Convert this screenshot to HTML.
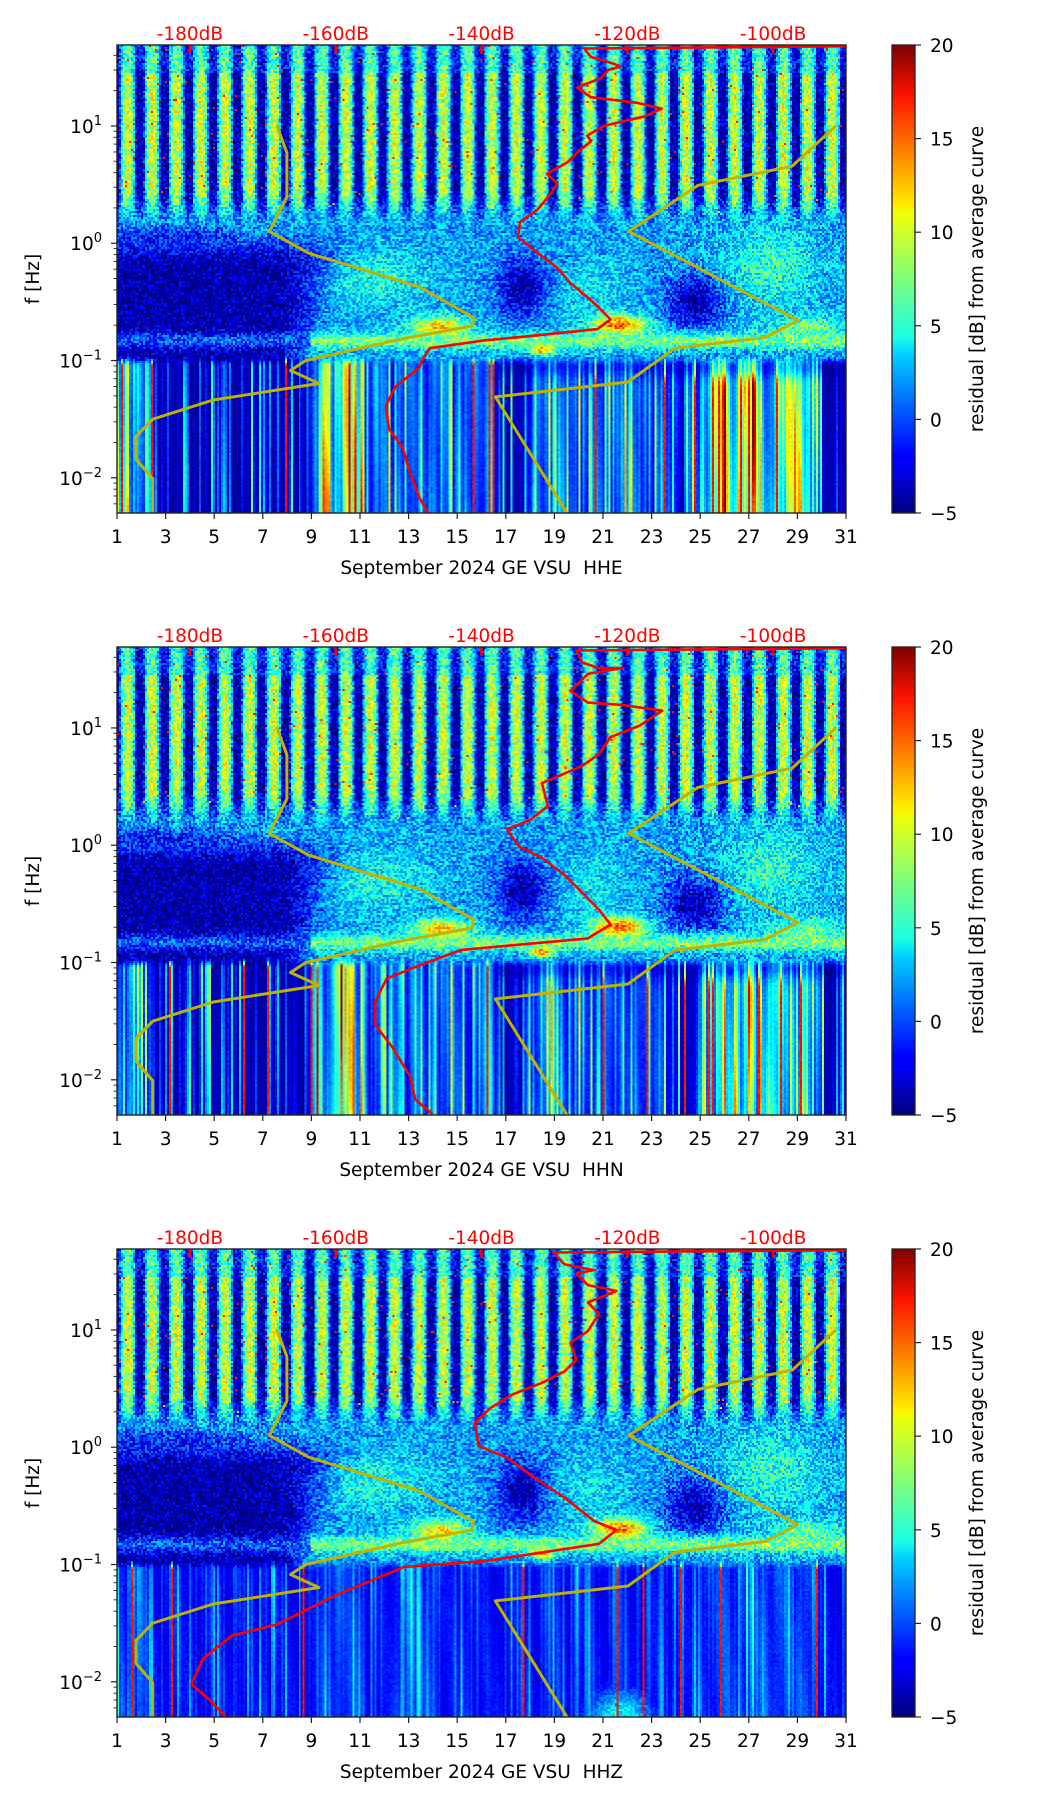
<!DOCTYPE html>
<html><head><meta charset="utf-8">
<style>
html,body{margin:0;padding:0;background:#fff;}
#wrap{position:relative;width:1052px;height:1806px;overflow:hidden;}
canvas{position:absolute;image-rendering:pixelated;}
svg{position:absolute;left:0;top:0;}
text{font-family:"DejaVu Sans","Liberation Sans",sans-serif;}
</style></head>
<body>
<div id="wrap">
<canvas id="c0" width="365" height="234" style="left:117px;top:45px;width:729px;height:468px"></canvas>
<canvas id="c1" width="365" height="234" style="left:117px;top:647px;width:729px;height:468px"></canvas>
<canvas id="c2" width="365" height="234" style="left:117px;top:1249px;width:729px;height:468px"></canvas>
<svg id="s" width="1052" height="1806">
<defs><linearGradient id="jetg" x1="0" y1="1" x2="0" y2="0">
<stop offset="0" stop-color="#00007f"/><stop offset="0.11" stop-color="#0000ff"/><stop offset="0.125" stop-color="#0000ff"/>
<stop offset="0.34" stop-color="#00d0ff"/><stop offset="0.375" stop-color="#19ffe6"/><stop offset="0.5" stop-color="#7dff7a"/>
<stop offset="0.64" stop-color="#f0ff08"/><stop offset="0.66" stop-color="#ffea00"/><stop offset="0.89" stop-color="#ff1300"/><stop offset="1" stop-color="#7f0000"/>
</linearGradient></defs>
</svg>
</div>
<script>
// ---- data ----
const dayTicks = [1,3,5,7,9,11,13,15,17,19,21,23,25,27,29,31];
const dbTicks = [-180,-160,-140,-120,-100];
const freqDecades = [-2,-1,0,1];
const cbTicks = [-5,0,5,10,15,20];
const titles = ["September 2024 GE VSU\u00a0 HHE","September 2024 GE VSU\u00a0 HHN","September 2024 GE VSU\u00a0 HHZ"];
// low noise model (dB, log10 Hz)
const nlnmDb = [-168.1,-166.7,-166.7,-169.1,-163.7,-148.5,-141.1,-141.3,-150.8,-164.1,-166.2,-162.3,-176.8,-185.1,-187.4,-187.4,-185.1,-185.1];
const nlnmLogF = [1.007,0.771,0.395,0.101,-0.085,-0.373,-0.634,-0.706,-0.814,-1.0,-1.085,-1.196,-1.337,-1.5,-1.647,-1.843,-2.007,-2.3];
// high noise model
const nhnmDb = [-91.4,-97.4,-110.3,-119.8,-96.6,-101.1,-113.5,-119.9,-138.1,-128.2];
const nhnmLogF = [1.0,0.657,0.493,0.101,-0.66,-0.804,-0.895,-1.183,-1.31,-2.307];
// average curves per channel
const heDb = [-90,-125.9,-125.0,-122.3,-120.9,-122.7,-123.6,-126.9,-125.0,-118.6,-115.3,-117.6,-123.2,-125.5,-125.0,-126.9,-128.2,-131.0,-129.6,-130.6,-132.4,-134.7,-135.0,-132.4,-129.6,-127.8,-125.9,-124.1,-122.3,-124.1,-134.2,-139.8,-147.1,-148.1,-148.5,-151.8,-153.1,-152.7,-150.8,-149.9,-148.5,-147.3];
const heLogF = [1.68,1.66,1.588,1.539,1.507,1.474,1.408,1.327,1.245,1.196,1.147,1.082,1.0,0.918,0.869,0.771,0.69,0.592,0.51,0.412,0.281,0.183,0.052,-0.078,-0.209,-0.34,-0.438,-0.536,-0.65,-0.732,-0.797,-0.83,-0.895,-0.993,-1.059,-1.222,-1.386,-1.582,-1.745,-1.941,-2.17,-2.307];
const hnDb = [-90,-127.0,-126.2,-123.9,-120.7,-125.4,-127.8,-125.4,-120.7,-115.2,-118.3,-122.3,-123.9,-126.2,-131.7,-130.9,-133.3,-136.5,-134.9,-131.7,-128.6,-126.2,-123.9,-122.3,-125.4,-142.8,-149.1,-153.0,-154.6,-154.6,-152.2,-149.8,-149.1,-146.7];
const hnLogF = [1.68,1.66,1.559,1.51,1.51,1.461,1.314,1.216,1.196,1.147,1.02,0.922,0.775,0.676,0.529,0.333,0.216,0.137,-0.01,-0.108,-0.255,-0.402,-0.549,-0.676,-0.794,-0.892,-1.039,-1.137,-1.333,-1.529,-1.725,-1.971,-2.167,-2.294];
const hzDb = [-90,-130.2,-128.6,-124.6,-127.0,-125.4,-121.5,-125.4,-123.9,-125.4,-127.8,-127.0,-128.6,-131.7,-135.7,-138.8,-140.9,-140.4,-136.5,-133.3,-128.6,-124.6,-121.5,-123.9,-139.6,-150.6,-160.1,-168.0,-174.3,-178.2,-179.8,-177.4,-175.0];
const hzLogF = [1.68,1.66,1.559,1.51,1.48,1.382,1.333,1.235,1.137,0.99,0.892,0.745,0.647,0.549,0.451,0.333,0.206,0.01,-0.088,-0.235,-0.431,-0.627,-0.706,-0.824,-0.971,-1.02,-1.265,-1.51,-1.608,-1.804,-2.02,-2.147,-2.304];

// ---- geometry ----
const L=117, W=729, H=468, TOPS=[45,647,1249], LT=1.69, LB=-2.30;
const xDay = d => L + (d-1)/30*W;
const xDb = db => xDay(4 + (db+180)*0.3);
const yF = (top,lf) => top + (LT-lf)/(LT-LB)*H;
const NS="http://www.w3.org/2000/svg";
const svg=document.getElementById('s');
function mk(tag,attrs,parent){const e=document.createElementNS(NS,tag);for(const k in attrs)e.setAttribute(k,attrs[k]);(parent||svg).appendChild(e);return e;}

// ---- spectrogram texture ----
function jet(v){v=Math.max(0,Math.min(1,v));const c=x=>Math.max(0,Math.min(1,x));
 return [c(1.5-Math.abs(4*v-3))*255,c(1.5-Math.abs(4*v-2))*255,c(1.5-Math.abs(4*v-1))*255];}
function h(a,b,s){const x=Math.sin(a*12.9898+b*78.233+s*37.719)*43758.5453;return x-Math.floor(x);}
function g2(d,l,d0,l0,sd,sl){return Math.exp(-((d-d0)*(d-d0)/(sd*sd)+(l-l0)*(l-l0)/(sl*sl)));}
function sm(e0,e1,x){const t=Math.max(0,Math.min(1,(x-e0)/(e1-e0)));return t*t*(3-2*t);}
function cn(c,k,s){const i=Math.floor(c),f=c-i,u=f*f*(3-2*f);return h(i,k,s)*(1-u)+h(i+1,k,s)*u;}
const zones=[[[1,2.3,0.7],[9.2,11.2,0.9],[11.5,16.5,0.4],[18,19.6,0.5],[19.6,24,0.4],[25,29.8,0.95]],
             [[1,2.3,0.55],[9.2,11.2,0.9],[11.5,16.5,0.4],[18,19.6,0.5],[19.6,24,0.4],[25,29.8,0.9]],
             [[1,2.3,0.15],[9.5,11,0.15],[12.5,14,0.15],[25,29.5,0.15]]];
function zone(p,d){let z=0;for(const q of zones[p]) z=Math.max(z,q[2]*sm(q[0]-0.4,q[0]+0.2,d)*(1-sm(q[1]-0.2,q[1]+0.4,d)));return z;}
function value(p,c,r,d,lf){
 const n=(h(c,r,p)-0.5);
 let up=0, mid=0;
 {
  const ph=d-0.44-Math.round(d-0.44);
  let st=Math.max(0,Math.cos(Math.PI*ph*1.45));
  st=Math.pow(st,0.6);
  let amp=0.55, base=0.04;
  if(lf>1.45){base=0.12;amp=0.35;}
  up=base+amp*st+n*0.25;
  if(h(c,r,p+7)>0.992) up=0.85;
 }
 {
  let v=0.28;
  let dark=0;
  dark=Math.max(dark,(1-sm(7.5,10.5+(lf+0.5)*3,d))*sm(0.15,-0.2,lf));
  dark=Math.max(dark,g2(d,lf,17.7,-0.38,1.0,0.25));
  dark=Math.max(dark,g2(d,lf,24.8,-0.5,1.1,0.22));
  dark=Math.max(dark,(1-sm(4,8,d))*sm(0.2,0.05,lf)*0.5);
  v=v*(1-dark)+0.03*dark;
  v+=0.12*g2(d,lf,11.5,-0.3,2.5,0.25)+0.14*g2(d,lf,28,-0.2,2.0,0.35)+0.08*g2(d,lf,20.5,-0.4,1.5,0.3);
  v+=0.4*g2(d,lf,14.3,-0.72,1.2,0.1)+0.5*g2(d,lf,21.7,-0.7,1.1,0.09)+0.55*g2(d,lf,18.5,-0.9,0.5,0.05);
  v+=0.2*g2(d,lf,29.5,-0.72,1.5,0.1);
  const mb=g2(0,lf,0,-0.83,1,0.07);
  v=v*(1-mb)+mb*(d>9?0.5:0.22);
  mid=v+n*0.25;
 }
 if(lf>0.12){ const t=sm(0.12,0.5,lf); return up*t+mid*(1-t); }
 if(lf>-0.95) return mid;
 // lower band: thin vertical streaks
 const z=zone(p,d);
 const a=h(c,0,p+11), b=cn(c/2.5,1,p+13), e=cn(c/1.3,2,p+19);
 let v=(p==2?0.14:0.05)+(p==2?0.25:0.5)*Math.pow(a,4)+z*(0.3+0.5*b)*(0.45+0.55*e);
 v*=0.85+0.15*Math.sin(lf*2.2+c*0.37);
 if(h(c,3,p+17)>(p==2?0.975:0.97)) v=0.86;
 if(p<2 && d>16.5) v=v*(1-0.4*g2(0,lf,0,-1.05,1,0.1));
 if(p==2) v=Math.max(v,(0.38+n*0.12)*g2(d,lf,21.7,-2.3,1.6,0.28));
 const t=sm(-1.05,-0.95,lf);
 return (v+n*0.05)*(1-t)+mid*t;
}
for(let p=0;p<3;p++){
 const cv=document.getElementById('c'+p),ctx=cv.getContext('2d');
 const img=ctx.createImageData(365,234);
 for(let r=0;r<234;r++){
  const lf=LT-(r+0.5)/234*(LT-LB);
  for(let c=0;c<365;c++){
   const d=1+(c+0.5)/365*30;
   const col=jet(value(p,c,r,d,lf));
   const i=(r*365+c)*4; img.data[i]=col[0];img.data[i+1]=col[1];img.data[i+2]=col[2];img.data[i+3]=255;
  }
 }
 ctx.putImageData(img,0,0);
}

// ---- overlays ----
const curves=[[heDb,heLogF],[hnDb,hnLogF],[hzDb,hzLogF]];
for(let p=0;p<3;p++){
 const top=TOPS[p];
 const g=mk('g',{});
 
 
 const clip=mk('clipPath',{id:'cl'+p},g);
 mk('rect',{x:L,y:top,width:W,height:H},clip);
 const lines=mk('g',{'clip-path':'url(#cl'+p+')'},g);
 const path=(xs,ys)=>xs.map((v,i)=>(i?'L':'M')+xDb(v).toFixed(1)+','+yF(top,ys[i]).toFixed(1)).join(' ');
 const lo=mk('path',{d:path(nlnmDb,nlnmLogF),fill:'none',stroke:'#bfb200',"stroke-width":3,"stroke-linejoin":'round'},lines);
 
 
 const hi=mk('path',{d:path(nhnmDb,nhnmLogF),fill:'none',stroke:'#bfb200',"stroke-width":3,"stroke-linejoin":'round'},lines);
 
 
 const av=mk('path',{d:path(curves[p][0],curves[p][1]),fill:'none',stroke:'#ff0000',"stroke-width":2.6,"stroke-linejoin":'round'},lines);
 
 
 for(const db of dbTicks){
  const t=mk('rect',{x:xDb(db)-1.3,y:top+1,width:2.6,height:8,fill:'#ff0000'},g);
  
  
  const tx=mk('text',{x:xDb(db),y:top-5,"text-anchor":'middle',"font-size":18.5,fill:'#ff0000'},g);
  tx.textContent=db+'dB';
  
  
 }
 const fr=mk('rect',{x:L,y:top,width:W,height:H,fill:'none',stroke:'#222',"stroke-width":1.4},g);
 
 
 for(const d of dayTicks){
  mk('line',{x1:xDay(d),x2:xDay(d),y1:top+H,y2:top+H+6,stroke:'#222',"stroke-width":1.2},g);
  const tx=mk('text',{x:xDay(d),y:top+H+30,"text-anchor":'middle',"font-size":18.5,fill:'#000'},g);
  tx.textContent=d;
  
  
 }
 for(const e of [-3,-2,-1,0,1]){
  for(let m=1;m<10;m++){
   const lf=e+Math.log10(m); if(lf<LB||lf>LT) continue;
   const y=yF(top,lf);
   mk('line',{x1:L,x2:L-(m==1?6:3.5),y1:y,y2:y,stroke:'#222',"stroke-width":m==1?1.2:0.9},g);
  }
 }
 for(const e of freqDecades){
  const y=yF(top,e);
  const tx=mk('text',{x:102,y:y+7,"text-anchor":'end',"font-size":18.5,fill:'#000'},g);
  
  
  const a=mk('tspan',{},tx); a.textContent='10';
  const b=mk('tspan',{dy:-8,"font-size":13},tx); b.textContent=(e<0?'\u2212':'')+Math.abs(e);
 }
 const yl=mk('text',{x:0,y:0,transform:'translate(39,'+(top+H/2)+') rotate(-90)',"text-anchor":'middle',"font-size":18.5},g);
 yl.textContent='f [Hz]';
 
 
 const xl=mk('text',{x:L+W/2,y:top+H+61,"text-anchor":'middle',"font-size":18.5},g);
 xl.textContent=titles[p];
 
 
 const cb=mk('rect',{x:892,y:top,width:23,height:H,fill:'url(#jetg)',stroke:'#222',"stroke-width":1.3},g);
 
 
 for(const v of cbTicks){
  const y=top+H-(v+5)/25*H;
  mk('line',{x1:915,x2:921,y1:y,y2:y,stroke:'#222',"stroke-width":1.2},g);
  const tx=mk('text',{x:930,y:y+7,"font-size":18.5},g);
  tx.textContent=(v<0?'\u2212':'')+Math.abs(v);
  
  
 }
 const cl=mk('text',{x:0,y:0,transform:'translate(983,'+(top+H/2)+') rotate(-90)',"text-anchor":'middle',"font-size":18.5},g);
 cl.textContent='residual [dB] from average curve';
 
 
}
</script>
</body></html>
